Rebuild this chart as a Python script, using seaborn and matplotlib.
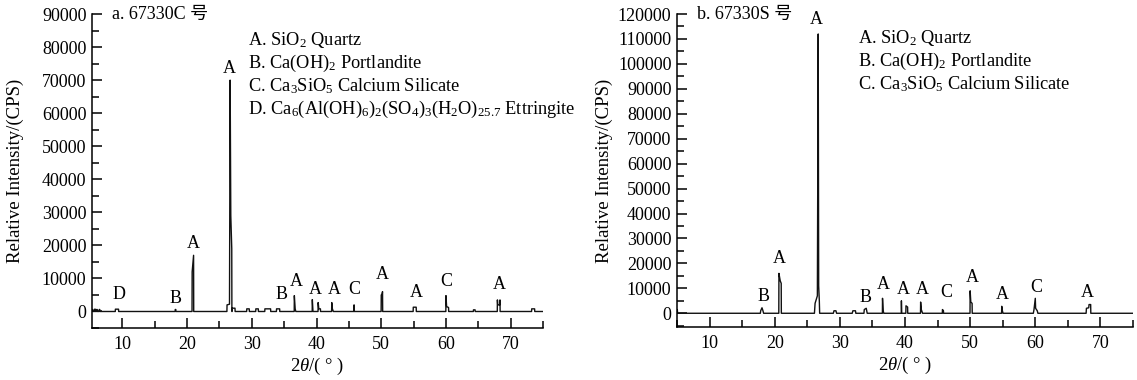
import matplotlib
matplotlib.use("Agg")
import matplotlib.pyplot as plt
import seaborn as sns
import pandas as pd
from matplotlib.ticker import MultipleLocator, FormatStrFormatter

# ---------------- data ----------------
# Panel a: 67330C trace vertices (2theta, intensity)
a_theta = [5.3, 5.32, 5.45, 5.47, 5.7, 5.72, 5.8, 5.82, 6.0, 6.02, 6.1, 6.12, 6.4, 6.42, 6.5, 6.52,
           8.9, 8.92, 9.4, 9.42,
           18.15, 18.17, 18.25, 18.27,
           20.76, 20.78, 21.0, 21.02,
           26.15, 26.17, 26.55, 26.65, 26.75, 26.9, 26.92,
           26.95, 26.97, 27.4, 27.42,
           29.2, 29.22, 29.6, 29.62,
           30.6, 30.62, 31.0, 31.02,
           32.0, 32.02, 32.9, 32.92,
           33.8, 33.82, 34.3, 34.32,
           36.55, 36.57, 36.7, 36.8,
           39.33, 39.35, 39.45,
           40.23, 40.25, 40.35, 40.6, 40.62,
           42.33, 42.35, 42.45, 42.6,
           45.78, 45.8, 45.85,
           49.98, 50.0, 50.1, 50.2, 50.22,
           54.93, 54.95, 55.4, 55.42,
           59.98, 60.0, 60.1, 60.4, 60.42,
           64.23, 64.25, 64.5, 64.52,
           67.93, 67.95, 68.0, 68.3, 68.35, 68.37,
           73.23, 73.25, 73.7, 73.72,
           75.0]
a_int = [0, 600, 600, 0, 0, 700, 700, 0, 0, 600, 600, 0, 0, 600, 600, 0,
         0, 700, 700, 0,
         0, 600, 600, 0,
         0, 12000, 17000, 0,
         0, 2000, 2200, 70000, 29000, 19000, 0,
         0, 1000, 1000, 0,
         0, 800, 800, 0,
         0, 800, 800, 0,
         0, 800, 800, 0,
         0, 800, 800, 0,
         0, 4800, 800, 0,
         0, 3600, 0,
         0, 2700, 800, 800, 0,
         0, 2700, 800, 0,
         0, 2000, 0,
         0, 5000, 5200, 6000, 0,
         0, 1300, 1300, 0,
         0, 4800, 1500, 1200, 0,
         0, 500, 500, 0,
         0, 3500, 2000, 2000, 3500, 0,
         0, 800, 800, 0,
         0]

# Panel b: 67330S trace vertices
b_theta = [5.0, 5.05, 5.1,
           17.8, 17.85, 18.05, 18.2, 18.3,
           20.63, 20.65, 20.85, 21.0, 21.02,
           26.1, 26.2, 26.55, 26.68, 26.75, 26.85, 26.9,
           29.0, 29.1, 29.4, 29.5,
           31.9, 32.0, 32.4, 32.45,
           33.7, 33.75, 34.05, 34.2,
           36.53, 36.55, 36.65, 36.75,
           39.43, 39.45, 39.5,
           40.13, 40.15, 40.4, 40.42,
           42.38, 42.4, 42.5, 42.7,
           45.73, 45.75, 45.9, 45.92,
           49.98, 50.0, 50.1, 50.3, 50.32,
           54.83, 54.85, 54.95, 55.05,
           59.7, 59.8, 60.0, 60.05, 60.3, 60.4,
           67.8, 67.85, 68.2, 68.25, 68.5, 68.52,
           75.0]
b_int = [0, 1500, 0,
         0, 1000, 2200, 1000, 0,
         0, 16000, 13000, 12000, 0,
         0, 4000, 7000, 112000, 11000, 5000, 0,
         0, 1000, 1000, 0,
         0, 1000, 1000, 0,
         0, 1500, 2000, 0,
         0, 6000, 1000, 0,
         0, 5000, 0,
         0, 3000, 2500, 0,
         0, 4500, 1500, 0,
         0, 1500, 1000, 0,
         0, 9000, 4500, 4000, 0,
         0, 2800, 1000, 0,
         0, 1500, 6000, 2000, 1000, 0,
         0, 2000, 2200, 3500, 3500, 0,
         0]

# Phase labels on peaks
a_lab_text = ["D", "B", "A", "A", "B", "A", "A", "A", "C", "A", "A", "C", "A"]
a_lab_theta = [9.5, 18.2, 21.0, 26.5, 34.6, 36.9, 39.8, 42.8, 45.9, 50.2, 55.4, 60.1, 68.3]
a_lab_int = [2700, 1500, 18000, 71000, 2700, 6400, 4000, 4000, 4000, 8500, 3300, 6400, 5500]

b_lab_text = ["B", "A", "A", "B", "A", "A", "A", "C", "A", "A", "C", "A"]
b_lab_theta = [18.3, 20.7, 26.4, 33.9, 36.6, 39.7, 42.6, 46.3, 50.3, 54.9, 60.1, 68.0]
b_lab_int = [3200, 18500, 114500, 2800, 8000, 6000, 6000, 5000, 11000, 4000, 7000, 5000]

a_title = "a. 67330C 号"
b_title = "b. 67330S 号"
a_legend = [r"A. SiO$_2$ Quartz",
            r"B. Ca(OH)$_2$ Portlandite",
            r"C. Ca$_3$SiO$_5$ Calcium Silicate",
            r"D. Ca$_6$(Al(OH)$_6$)$_2$(SO$_4$)$_3$(H$_2$O)$_{25.7}$ Ettringite"]
b_legend = a_legend[:3]
ylabel = "Relative Intensity/(CPS)"
xlabel = r"2$\theta$/( ° )"

# ---------------- style ----------------
sns.set_theme(style="ticks")
plt.rcParams["font.family"] = ["Liberation Serif", "Noto Sans CJK SC", "DejaVu Sans"]
plt.rcParams["mathtext.fontset"] = "custom"
plt.rcParams["mathtext.rm"] = "Liberation Serif"
plt.rcParams["mathtext.it"] = "Liberation Serif:italic"
plt.rcParams["mathtext.bf"] = "Liberation Serif:bold"

fig = plt.figure(figsize=(11.37, 3.80), dpi=100)
ax_a = fig.add_axes([0.0809, 0.1368, 0.3967, 0.8263])
ax_b = fig.add_axes([0.5954, 0.1395, 0.4011, 0.8236])

panels = [
    (ax_a, a_theta, a_int, a_lab_text, a_lab_theta, a_lab_int, a_title, a_legend, (5.3, 75), (-5000, 90000), -0.151),
    (ax_b, b_theta, b_int, b_lab_text, b_lab_theta, b_lab_int, b_title, b_legend, (5.0, 75), (-5500, 120000), -0.140),
]

for ax, th, it, lt, lth, lint, title, legend, xl, yl, ylx in panels:
    df = pd.DataFrame({"theta": th, "intensity": it})
    sns.lineplot(data=df, x="theta", y="intensity", ax=ax, color="#111111",
                 lw=1.0, estimator=None, sort=False)
    for t, x, y in zip(lt, lth, lint):
        ax.text(x, y, t, ha="center", va="bottom", fontsize=13, color="black")
    ax.set_xlim(*xl)
    ax.set_ylim(*yl)
    ax.xaxis.set_major_locator(MultipleLocator(10))
    ax.xaxis.set_minor_locator(MultipleLocator(5))
    ax.yaxis.set_major_locator(MultipleLocator(10000))
    ax.yaxis.set_minor_locator(MultipleLocator(5000))
    ax.yaxis.set_major_formatter(FormatStrFormatter("%d"))
    ax.tick_params(axis="both", which="major", direction="in", length=7, width=1.1,
                   labelsize=13, color="black", labelcolor="black")
    ax.tick_params(axis="both", which="minor", direction="in", length=5, width=1.1, color="black")
    ax.tick_params(axis="x", which="major", pad=6)
    ax.tick_params(axis="y", which="major", pad=4)
    for s in ["top", "right"]:
        ax.spines[s].set_visible(False)
    for s in ["left", "bottom"]:
        ax.spines[s].set_linewidth(1.1)
        ax.spines[s].set_color("black")
    ax.set_xlabel(xlabel, fontsize=13.5, color="black", labelpad=2)
    ax.set_ylabel(ylabel, fontsize=13.5, color="black")
    ax.yaxis.set_label_coords(ylx, 0.5)
    ax.text(0.044, 0.997, title, transform=ax.transAxes, ha="left", va="center",
            fontsize=13, color="black")

for i, line in enumerate(a_legend):
    ax_a.text(0.346, 0.917 - i * 0.074, line, transform=ax_a.transAxes, ha="left",
              va="center", fontsize=13.2, color="black")
for i, line in enumerate(b_legend):
    ax_b.text(0.397, 0.924 - i * 0.074, line, transform=ax_b.transAxes, ha="left",
              va="center", fontsize=13.2, color="black")

fig.savefig("out.png", dpi=100)
